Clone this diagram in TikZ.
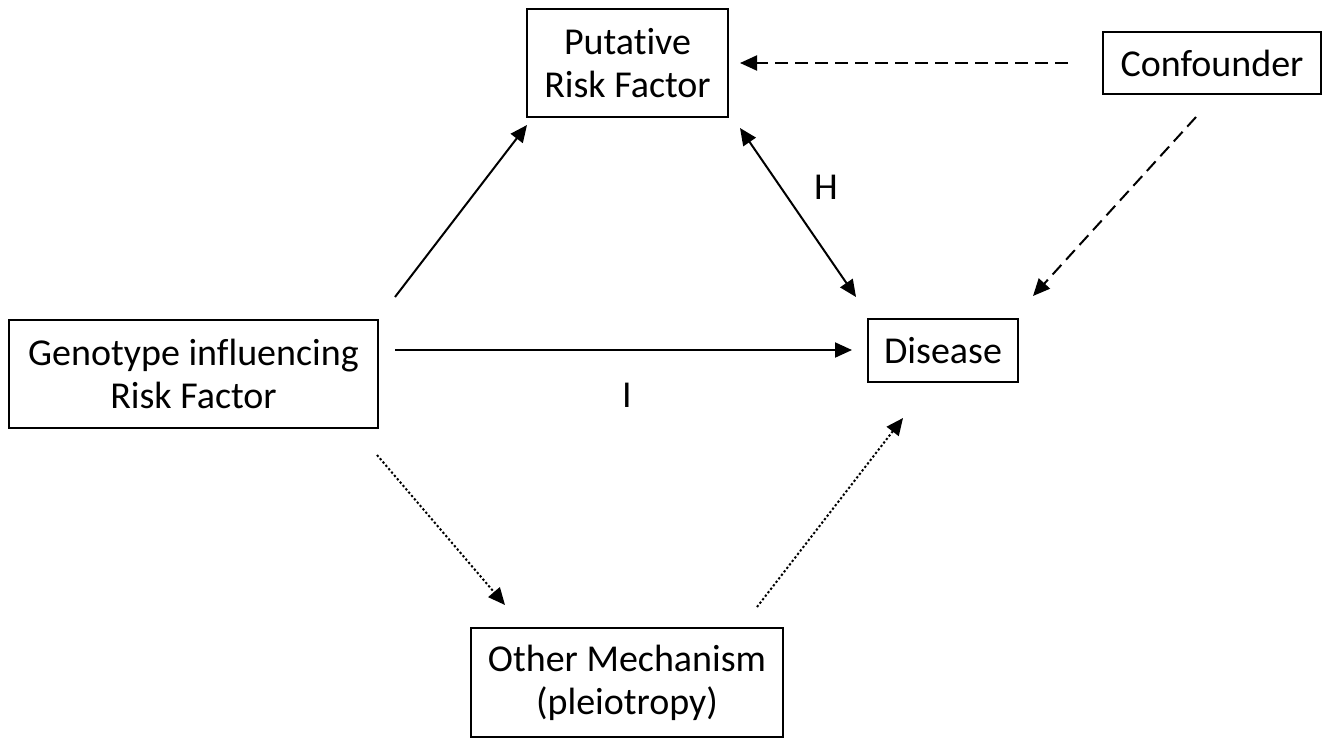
\documentclass[tikz,border=0pt]{standalone}
\usepackage{fontspec}
\setmainfont{Carlito}[Ligatures={NoCommon}]
\usetikzlibrary{arrows.meta}
\begin{document}
\begin{tikzpicture}[x=1pt,y=-1pt,
  box/.style={draw, line width=1.4pt, inner sep=0pt, align=center, font=\fontsize{38}{43}\selectfont},
  lbl/.style={inner sep=0pt, font=\fontsize{38}{43}\selectfont},
  arr/.style={line width=2pt, -{Triangle[length=17pt,width=15pt]}},
  darr/.style={arr, dash pattern=on 13pt off 7pt},
  oarr/.style={arr, dash pattern=on 2.2pt off 2.2pt},
  barr/.style={line width=2pt, {Triangle[length=17pt,width=15pt]}-{Triangle[length=17pt,width=15pt]}}]
\useasboundingbox (0,0) rectangle (1329,739);
\node[box, minimum width=201pt, minimum height=108pt] (put) at (627.5,63) {Putative\\Risk Factor};
\node[box, minimum width=218pt, minimum height=62pt] (conf) at (1212,63) {Confounder};
\node[box, minimum width=369pt, minimum height=108pt] (gen) at (193.5,374) {Genotype influencing\\Risk Factor};
\node[box, minimum width=150pt, minimum height=63pt] (dis) at (943,350.5) {Disease};
\node[box, minimum width=312pt, minimum height=109pt] (oth) at (627,682.5) {Other Mechanism\\(pleiotropy)};
\node[lbl] (h) at (826,187) {H};
\node[lbl] (i) at (627,395) {I};
% connector end points
\coordinate (g1) at (395,297); \coordinate (p1) at (527,125);
\coordinate (p2) at (740,128); \coordinate (d1) at (856,297);
\coordinate (c1) at (1068,63); \coordinate (p3) at (740,63);
\coordinate (c2) at (1196,117); \coordinate (d2) at (1033,296);
\coordinate (g2) at (395,350); \coordinate (d3) at (852,350);
\coordinate (g3) at (377,455); \coordinate (o1) at (505,605);
\coordinate (o2) at (757,607); \coordinate (d4) at (903,418);
\draw[arr] (g1) -- (p1);
\draw[barr] (p2) -- (d1);
\draw[darr] (c1) -- (p3);
\draw[darr] (c2) -- (d2);
\draw[arr] (g2) -- (d3);
\draw[oarr] (g3) -- (o1);
\draw[oarr] (o2) -- (d4);
\end{tikzpicture}
\end{document}
